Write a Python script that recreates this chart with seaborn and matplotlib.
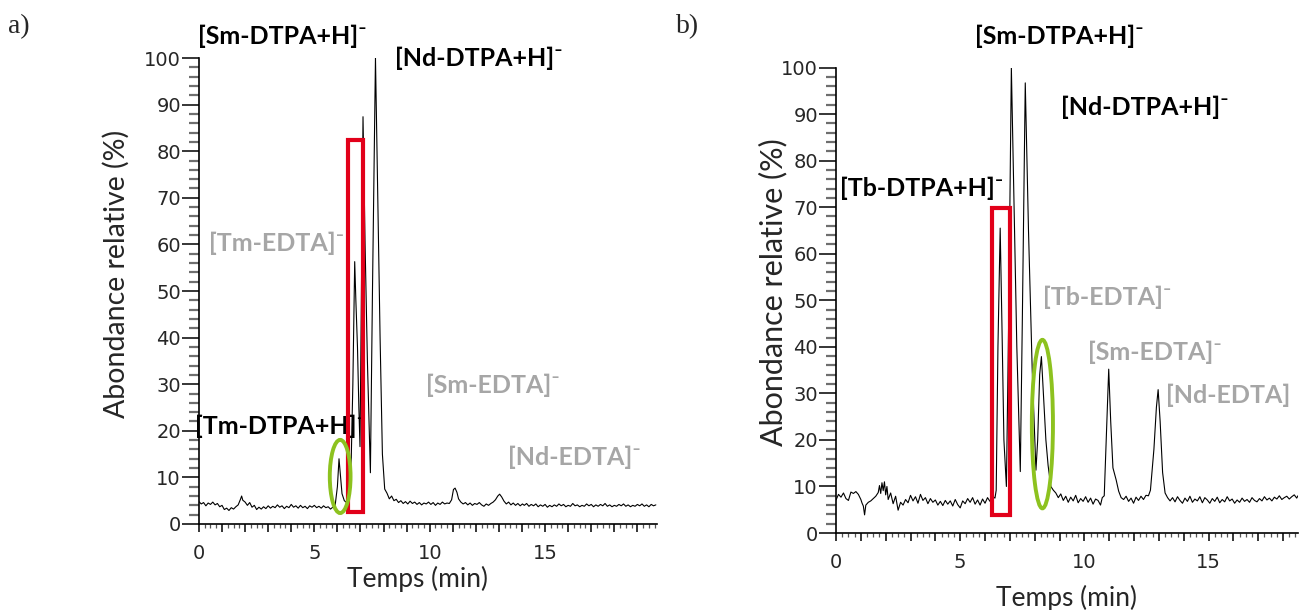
import numpy as np
import pandas as pd
import seaborn as sns
import matplotlib.pyplot as plt
from matplotlib.patches import Rectangle, Ellipse
from matplotlib.ticker import MultipleLocator, FuncFormatter

# ---- panel a) chromatogram (time in min, relative abundance %) ----
time_a = [0.0, 0.1, 0.2, 0.3, 0.4, 0.5, 0.6, 0.7, 0.8, 0.9,
          1.0, 1.1, 1.2, 1.3, 1.4, 1.5, 1.6, 1.7, 1.8, 1.85, 1.9,
          2.0, 2.1, 2.2, 2.3, 2.4, 2.5, 2.6, 2.7, 2.8, 2.9,
          3.0, 3.1, 3.2, 3.3, 3.4, 3.5, 3.6, 3.7, 3.8, 3.9,
          4.0, 4.1, 4.2, 4.3, 4.4, 4.5, 4.6, 4.7, 4.8, 4.9,
          5.0, 5.1, 5.2, 5.3, 5.4, 5.5, 5.6, 5.7, 5.8, 5.9,
          6.0, 6.07, 6.13, 6.2, 6.3, 6.4, 6.5, 6.6, 6.67, 6.75, 6.8, 6.87, 6.93, 6.98,
          7.04, 7.11, 7.2, 7.3, 7.43, 7.52, 7.65, 7.75, 7.85, 7.95,
          8.05, 8.15, 8.25, 8.35, 8.45, 8.55, 8.65, 8.75, 8.85, 8.95,
          9.05, 9.15, 9.25, 9.35, 9.45, 9.55, 9.65, 9.75, 9.85, 9.95,
          10.05, 10.15, 10.25, 10.35, 10.45, 10.55, 10.65, 10.75, 10.85, 10.95,
          11.03, 11.1, 11.18, 11.25, 11.35, 11.45, 11.55, 11.65, 11.75, 11.85, 11.95,
          12.05, 12.15, 12.25, 12.35, 12.45, 12.55, 12.65, 12.75, 12.85, 12.95,
          13.03, 13.12, 13.22, 13.32, 13.42, 13.52, 13.62, 13.72, 13.82, 13.92, 14.02,
          14.1, 14.2, 14.3, 14.4, 14.5, 14.6, 14.7, 14.8, 14.9,
          15.0, 15.1, 15.2, 15.3, 15.4, 15.5, 15.6, 15.7, 15.8, 15.9,
          16.0, 16.1, 16.2, 16.3, 16.4, 16.5, 16.6, 16.7, 16.8, 16.9,
          17.0, 17.1, 17.2, 17.3, 17.4, 17.5, 17.6, 17.7, 17.8, 17.9,
          18.0, 18.1, 18.2, 18.3, 18.4, 18.5, 18.6, 18.7, 18.8, 18.9,
          19.0, 19.1, 19.2, 19.3, 19.4, 19.5, 19.6, 19.7, 19.8]
abund_a = [4.8, 4.3, 4.6, 3.9, 4.5, 4.2, 4.7, 4.1, 4.4, 3.7,
           4.0, 3.1, 3.4, 2.9, 3.5, 3.2, 3.7, 4.1, 5.3, 6.0, 5.1,
           4.7, 4.0, 4.6, 3.6, 4.0, 3.1, 3.6, 3.2, 3.7, 3.3,
           3.9, 3.4, 3.8, 3.5, 4.1, 3.6, 3.9, 3.3, 3.8, 3.5,
           4.2, 3.6, 3.9, 3.4, 4.0, 3.5, 3.8, 3.3, 3.9, 3.6,
           4.0, 3.5, 3.8, 3.4, 3.9, 3.5, 3.7, 3.2, 3.6, 3.9,
           8.0, 14.0, 10.5, 6.5, 5.0, 4.6, 5.8, 14.0, 30.0, 56.3, 48.0, 38.0, 25.0, 16.6,
           50.0, 87.4, 60.0, 35.0, 11.0, 50.0, 100.0, 70.0, 40.0, 15.0,
           7.5, 6.6, 5.4, 6.0, 5.0, 5.3, 4.6, 5.0, 4.4, 4.8,
           4.3, 4.9, 4.4, 4.7, 4.2, 4.6, 4.1, 4.5, 4.3, 4.7,
           4.2, 4.6, 4.0, 4.5, 4.2, 4.7, 4.3, 4.5, 4.4, 5.2,
           7.4, 7.7, 6.8, 5.4, 4.7, 4.3, 4.6, 4.1, 4.5, 4.0, 4.4,
           4.2, 4.6, 4.1, 3.8, 4.3, 4.0, 4.4, 4.7, 5.2, 6.0,
           6.4, 5.8, 4.9, 4.3, 4.7, 4.1, 4.5, 4.0, 4.4, 3.9, 4.3,
           4.0, 4.4, 3.8, 4.2, 3.9, 4.3, 3.7, 4.1, 3.8,
           4.2, 3.6, 4.0, 3.7, 4.1, 3.8, 4.3, 3.9, 4.2, 3.7,
           4.0, 3.8, 4.4, 3.9, 4.1, 3.7, 4.0, 3.8, 4.3, 3.9,
           4.2, 3.7, 4.1, 3.8, 4.2, 3.9, 4.4, 3.8, 4.1, 3.7,
           4.0, 3.8, 4.2, 3.9, 4.3, 3.8, 4.1, 3.7, 4.0, 3.8,
           4.2, 3.9, 4.3, 3.8, 4.1, 3.7, 4.2, 3.9, 4.1]

# ---- panel b) chromatogram ----
time_b = [0.0, 0.1, 0.2, 0.3, 0.4, 0.5, 0.6, 0.7, 0.8, 0.9,
          1.0, 1.05, 1.1, 1.15, 1.2, 1.3, 1.4, 1.5, 1.6, 1.7, 1.75, 1.8, 1.85, 1.9, 1.95,
          2.0, 2.05, 2.1, 2.2, 2.3, 2.4, 2.5, 2.6, 2.7, 2.8, 2.9,
          3.0, 3.1, 3.2, 3.3, 3.4, 3.5, 3.6, 3.7, 3.8, 3.9,
          4.0, 4.1, 4.2, 4.3, 4.4, 4.5, 4.6, 4.7, 4.8, 4.9,
          5.0, 5.1, 5.2, 5.3, 5.4, 5.5, 5.6, 5.7, 5.8, 5.9,
          6.0, 6.1, 6.2, 6.3, 6.4, 6.45, 6.52, 6.61, 6.68, 6.76, 6.86, 6.95,
          7.06, 7.15, 7.28, 7.42, 7.5, 7.62, 7.75, 7.9,
          8.05, 8.12, 8.2, 8.27, 8.35, 8.45, 8.54, 8.65, 8.75, 8.85, 8.95,
          9.05, 9.15, 9.25, 9.35, 9.45, 9.55, 9.65, 9.75, 9.85, 9.95,
          10.05, 10.15, 10.25, 10.35, 10.45, 10.55, 10.65, 10.72, 10.8, 10.88, 10.98,
          11.06, 11.15, 11.28, 11.38, 11.48, 11.58, 11.68, 11.78, 11.88, 11.98,
          12.08, 12.18, 12.28, 12.38, 12.48, 12.58, 12.66, 12.8, 12.9, 12.97,
          13.05, 13.15, 13.25, 13.35, 13.45, 13.55, 13.65, 13.75, 13.85, 13.95,
          14.05, 14.15, 14.25, 14.35, 14.45, 14.55, 14.65, 14.75, 14.85, 14.95,
          15.05, 15.15, 15.25, 15.35, 15.45, 15.55, 15.65, 15.75, 15.85, 15.95,
          16.05, 16.15, 16.25, 16.35, 16.45, 16.55, 16.65, 16.75, 16.85, 16.95,
          17.05, 17.15, 17.25, 17.35, 17.45, 17.55, 17.65, 17.75, 17.85, 17.95,
          18.05, 18.15, 18.25, 18.35, 18.45, 18.55, 18.6]
abund_b = [7.1, 8.3, 7.7, 8.6, 7.4, 7.0, 8.8, 8.5, 8.9, 8.3,
           7.2, 6.4, 5.8, 3.9, 6.0, 6.6, 6.9, 7.4, 7.9, 8.7, 10.2, 8.5, 10.8, 9.1, 11.0,
           8.2, 10.0, 7.2, 8.6, 6.3, 7.9, 4.9, 6.6, 6.0, 7.2, 6.5,
           8.1, 6.9, 7.8, 6.4, 8.3, 7.0, 7.6, 6.3, 7.4, 6.6,
           7.1, 6.0, 6.8, 5.9, 7.0, 6.2, 6.9, 5.8, 7.2, 6.1,
           5.4, 6.9, 6.3, 7.4, 6.6, 7.6, 6.2, 7.1, 6.0, 7.3,
           6.4, 7.6, 6.8, 7.9, 7.5, 9.2, 40.0, 65.5, 45.0, 20.0, 10.0, 45.0,
           100.0, 75.0, 40.0, 13.2, 45.0, 96.7, 65.0, 35.0,
           13.5, 20.0, 34.0, 37.9, 30.0, 20.0, 14.5, 10.0, 9.2, 8.6, 7.6,
           8.4, 7.0, 7.9, 6.6, 7.7, 6.9, 8.1, 6.5, 7.4, 6.8,
           7.8, 6.6, 7.5, 6.2, 7.3, 7.0, 6.0, 7.6, 8.0, 20.0, 35.2,
           24.0, 14.0, 11.4, 9.0, 7.6, 7.2, 7.9, 6.8, 7.5, 6.4,
           7.7, 7.0, 7.9, 7.2, 8.1, 8.0, 9.2, 18.0, 27.0, 30.8,
           24.0, 13.0, 8.6, 7.6, 6.9, 7.6, 6.7, 7.8, 7.0, 6.4,
           7.5, 6.8, 7.9, 6.6, 7.3, 6.9, 7.8, 6.5, 7.6, 7.1,
           6.4, 7.4, 6.8, 7.7, 6.5, 7.2, 6.7, 7.8, 6.9, 7.3,
           6.4, 7.1, 6.6, 7.5, 6.8, 7.2, 6.6, 7.6, 7.0, 6.7,
           7.4, 6.9, 7.8, 7.1, 7.5, 6.9, 7.7, 7.3, 8.0, 7.2,
           7.6, 7.9, 7.3, 7.8, 8.2, 7.5, 8.0]

# peak labels: text, colour, x (min), y (%)
labels_a = [("[Sm-DTPA+H]⁻", "black", -0.05, 104.7),
            ("[Nd-DTPA+H]⁻", "black", 8.5, 100.0),
            ("[Tm-EDTA]⁻", "#a6a6a6", 0.45, 60.3),
            ("[Tm-DTPA+H]⁻", "black", -0.15, 21.0),
            ("[Sm-EDTA]⁻", "#a6a6a6", 9.85, 29.8),
            ("[Nd-EDTA]⁻", "#a6a6a6", 13.4, 14.4)]
labels_b = [("[Sm-DTPA+H]⁻", "black", 5.6, 106.7),
            ("[Nd-DTPA+H]⁻", "black", 9.05, 91.4),
            ("[Tb-DTPA+H]⁻", "black", 0.15, 74.0),
            ("[Tb-EDTA]⁻", "#a6a6a6", 8.35, 50.6),
            ("[Sm-EDTA]⁻", "#a6a6a6", 10.15, 38.8),
            ("[Nd-EDTA]", "#a6a6a6", 13.27, 29.6)]

# highlight boxes: red rectangle (x0, x1, y0, y1), green ellipse (xc, yc, w, h)
rect_a = (6.46, 7.11, 2.6, 82.4)
ell_a = (6.12, 10.2, 0.9, 15.7)
rect_b = (6.28, 7.02, 3.9, 69.8)
ell_b = (8.31, 23.4, 0.85, 36.2)

sns.set_style("white")
plt.rcParams['font.family'] = ['DejaVu Sans']

fig = plt.figure(figsize=(13.02, 6.10), dpi=100)
ax_a = fig.add_axes([0.1528, 0.1410, 0.3518, 0.7639])
ax_b = fig.add_axes([0.6421, 0.1262, 0.3548, 0.7631])

LBL_FONT = ['Lato', 'DejaVu Sans']


def style_axis(ax, xmax, xlab_pos, ylab_pos, ylab_size):
    ax.set_xlim(0, xmax)
    ax.set_ylim(0, 100)
    for s in ['top', 'right']:
        ax.spines[s].set_visible(False)
    for s in ['left', 'bottom']:
        ax.spines[s].set_color('black')
        ax.spines[s].set_linewidth(1.2)
    ax.yaxis.set_major_locator(MultipleLocator(10))
    ax.yaxis.set_minor_locator(MultipleLocator(2))
    ax.xaxis.set_major_locator(MultipleLocator(1))
    ax.xaxis.set_minor_locator(MultipleLocator(0.25))
    ax.xaxis.set_major_formatter(FuncFormatter(
        lambda v, p: f"{int(round(v))}" if round(v) % 5 == 0 else ""))
    ax.tick_params(axis='y', which='major', left=True, direction='out',
                   length=12, width=1.1, color='black', pad=1, labelsize=14)
    ax.tick_params(axis='y', which='minor', left=True, direction='out',
                   length=7, width=1.6, color='#6e6e6e')
    ax.tick_params(axis='x', which='major', bottom=True, direction='out',
                   length=5.5, width=1.1, color='black', pad=9, labelsize=14)
    ax.tick_params(axis='x', which='minor', bottom=True, direction='out',
                   length=3, width=0.9, color='#555555')
    ax.set_xlabel("Temps (min)", family=LBL_FONT, fontsize=19)
    ax.set_ylabel("Abondance relative (%)", family=LBL_FONT, fontsize=ylab_size)
    ax.xaxis.set_label_coords(*xlab_pos)
    ax.yaxis.set_label_coords(*ylab_pos)


def draw_panel(ax, t, y, labels, rect, ell):
    df = pd.DataFrame({"Temps": t, "Abondance": y})
    sns.lineplot(data=df, x="Temps", y="Abondance", ax=ax, color='black',
                 lw=0.8, estimator=None)
    x0, x1, y0, y1 = rect
    ax.add_patch(Rectangle((x0, y0), x1 - x0, y1 - y0, fill=False,
                           edgecolor='#e2001a', lw=3, zorder=5))
    xc, yc, w, h = ell
    ax.add_patch(Ellipse((xc, yc), w, h, fill=False, edgecolor='#8dc21f',
                         lw=2.8, zorder=5))
    for txt, col, x, yy in labels:
        ax.text(x, yy, txt, color=col, fontsize=18, fontweight='bold',
                family=LBL_FONT, ha='left', va='center', clip_on=False)


draw_panel(ax_a, time_a, abund_a, labels_a, rect_a, ell_a)
draw_panel(ax_b, time_b, abund_b, labels_b, rect_b, ell_b)
style_axis(ax_a, 19.85, (0.478, -0.09), (-0.151, 0.536), 20.5)
style_axis(ax_b, 18.6, (0.50, -0.112), (-0.106, 0.517), 22)

fig.text(8 / 1302, 1 - 27 / 610, "a)", family=['Liberation Serif'],
         fontsize=20, ha='left', va='center')
fig.text(676 / 1302, 1 - 27 / 610, "b)", family=['Liberation Serif'],
         fontsize=20, ha='left', va='center')

fig.savefig("out.png", dpi=100)
